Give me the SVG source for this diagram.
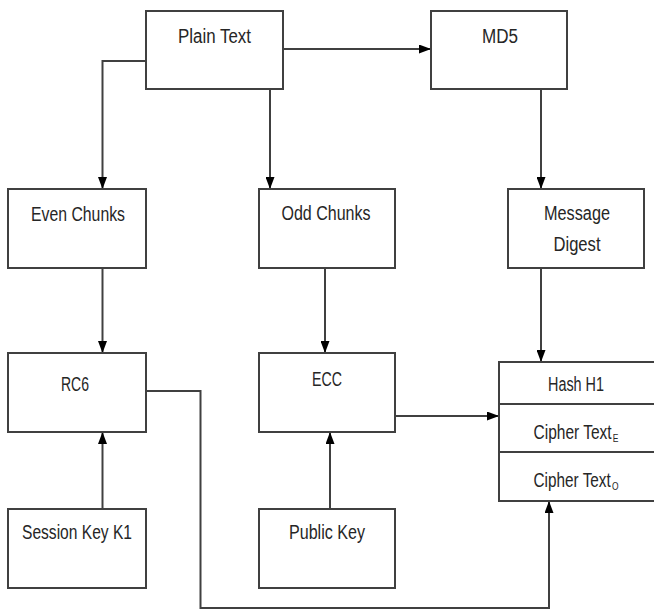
<svg xmlns="http://www.w3.org/2000/svg" width="654" height="610" viewBox="0 0 654 610">
  <style>
    .box { fill: #ffffff; stroke: #404040; stroke-width: 2; }
    .div { stroke: #404040; stroke-width: 2; fill: none; }
    .lbl { font-family: "Liberation Sans", Arial, sans-serif; font-size: 20px; fill: #262626; text-anchor: middle; }
    .sub { font-size: 11px; }
    .wire { fill: none; stroke: #404040; stroke-width: 2; marker-end: url(#head); }
  </style>
  <defs>
    <marker id="head" markerUnits="userSpaceOnUse" markerWidth="12" markerHeight="9" refX="12" refY="4.5" orient="auto">
      <path d="M0,0 L12,4.5 L0,9 z" fill="#000000"/>
    </marker>
  </defs>
  <rect width="654" height="610" fill="#ffffff"/>

  <g id="connectors">
    <path class="wire" d="M283,49 H431"/>
    <path class="wire" d="M146,61 H102.5 V189"/>
    <path class="wire" d="M270,89 V189"/>
    <path class="wire" d="M541,89 V189"/>
    <path class="wire" d="M102.5,268 V353"/>
    <path class="wire" d="M325,268 V353"/>
    <path class="wire" d="M541,268 V362"/>
    <path class="wire" d="M102.5,509 V432"/>
    <path class="wire" d="M330,509 V432"/>
    <path class="wire" d="M395,416 H499"/>
    <path class="wire" d="M146,391 H200.5 V608 H549 V501"/>
  </g>

  <g id="plain-text">
    <rect class="box" x="146" y="11" width="137" height="78"/>
    <text class="lbl" x="214.5" y="43" textLength="73" lengthAdjust="spacingAndGlyphs">Plain Text</text>
  </g>
  <g id="md5">
    <rect class="box" x="431" y="11" width="136" height="78"/>
    <text class="lbl" x="500" y="43" textLength="36" lengthAdjust="spacingAndGlyphs">MD5</text>
  </g>
  <g id="even-chunks">
    <rect class="box" x="8" y="189" width="138" height="79"/>
    <text class="lbl" x="78" y="221" textLength="94" lengthAdjust="spacingAndGlyphs">Even Chunks</text>
  </g>
  <g id="odd-chunks">
    <rect class="box" x="259" y="189" width="136" height="79"/>
    <text class="lbl" x="326" y="220" textLength="89" lengthAdjust="spacingAndGlyphs">Odd Chunks</text>
  </g>
  <g id="message-digest">
    <rect class="box" x="508" y="189" width="136" height="79"/>
    <text class="lbl" x="577" y="220" textLength="66" lengthAdjust="spacingAndGlyphs">Message</text>
    <text class="lbl" x="577" y="251" textLength="47" lengthAdjust="spacingAndGlyphs">Digest</text>
  </g>
  <g id="rc6">
    <rect class="box" x="8" y="353" width="138" height="79"/>
    <text class="lbl" x="75" y="391" textLength="28" lengthAdjust="spacingAndGlyphs">RC6</text>
  </g>
  <g id="ecc">
    <rect class="box" x="259" y="353" width="136" height="79"/>
    <text class="lbl" x="327" y="386" textLength="30" lengthAdjust="spacingAndGlyphs">ECC</text>
  </g>
  <g id="session-key">
    <rect class="box" x="8" y="509" width="138" height="79"/>
    <text class="lbl" x="77" y="539" textLength="110" lengthAdjust="spacingAndGlyphs">Session Key K1</text>
  </g>
  <g id="public-key">
    <rect class="box" x="259" y="509" width="136" height="79"/>
    <text class="lbl" x="327" y="539" textLength="76" lengthAdjust="spacingAndGlyphs">Public Key</text>
  </g>
  <g id="output-record">
    <rect class="box" x="499" y="362" width="160" height="139"/>
    <path class="div" d="M499,404 H659 M499,452 H659"/>
    <text class="lbl" x="576" y="391" textLength="56" lengthAdjust="spacingAndGlyphs">Hash H1</text>
    <text class="lbl" x="576" y="439" textLength="85" lengthAdjust="spacingAndGlyphs">Cipher Text<tspan class="sub" dx="1.5" dy="3">E</tspan></text>
    <text class="lbl" x="576" y="487" textLength="85" lengthAdjust="spacingAndGlyphs">Cipher Text<tspan class="sub" dx="1.5" dy="3">O</tspan></text>
  </g>
</svg>
